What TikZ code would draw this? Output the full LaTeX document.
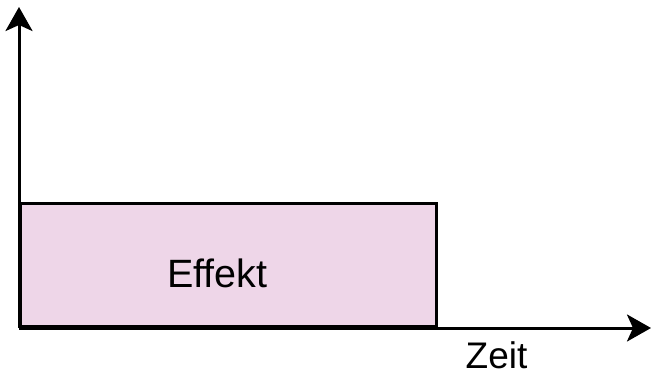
\documentclass[tikz,border=0pt]{standalone}
\usepackage{fontspec}
\setmainfont{Liberation Sans}
\usetikzlibrary{arrows.meta}
\definecolor{effektfill}{HTML}{EED6E8}
\begin{document}
\begin{tikzpicture}[x=1pt,y=1pt,
  axis/.style={line width=3pt,-{Stealth[length=24pt,width=27pt,inset=6pt]}},
  box/.style={draw,line width=3pt,fill=effektfill,inner sep=0pt,anchor=south west},
  lbl/.style={font=\fontsize{39.5}{46}\selectfont,inner sep=0pt},
  axlbl/.style={font=\fontsize{37}{44}\selectfont,inner sep=0pt}]
\useasboundingbox (0,0) rectangle (651,376);
\coordinate (O) at (19,48);
\coordinate (ytip) at (19,369);
\coordinate (xtip) at (651,48);
\node[box,minimum width=416pt,minimum height=123pt] (eff) at (O) {};
\node[lbl] (efftext) at (217.5,103) {Effekt};
\draw[axis] (O) -- (ytip);
\draw[axis] (O) -- (xtip);
\node[axlbl] (zeit) at (496.5,20.5) {Zeit};
\end{tikzpicture}
\end{document}
